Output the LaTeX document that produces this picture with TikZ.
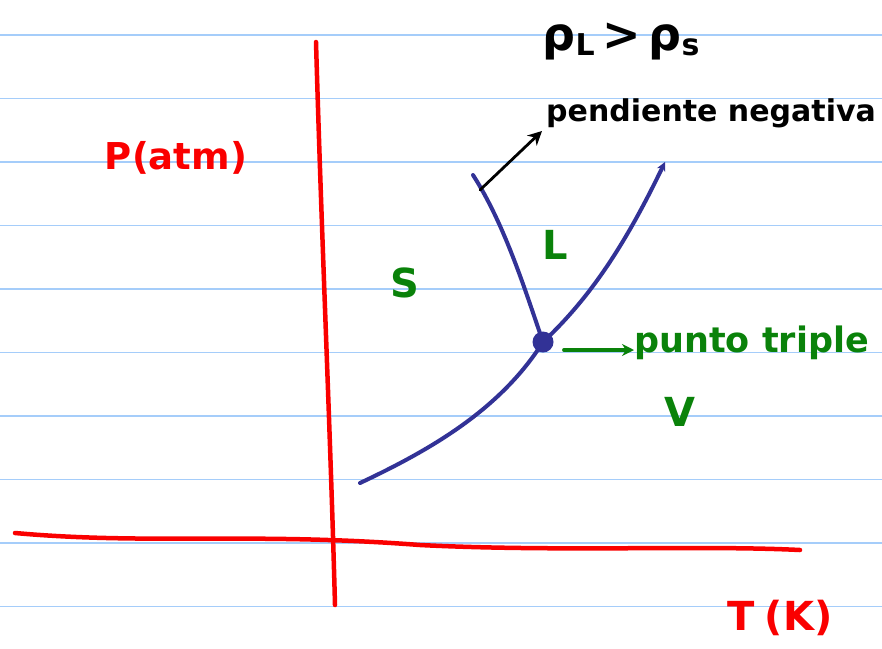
\documentclass[tikz,border=0pt]{standalone}
\usepackage{fontspec}
\setmainfont{DejaVu Sans}
\usetikzlibrary{arrows.meta}
\definecolor{rulecol}{RGB}{165,205,250}
\definecolor{axred}{RGB}{250,0,0}
\definecolor{curveblue}{RGB}{50,50,150}
\definecolor{phgreen}{RGB}{10,130,10}
\newcommand{\smallsub}[1]{\raisebox{-0.1em}{\fontsize{30}{30}\selectfont #1}}
\begin{document}
\begin{tikzpicture}[x=1pt,y=-1pt,
  ruled/.style={rulecol, line width=1.5pt},
  axisline/.style={axred, line width=4.5pt, line cap=round, line join=round},
  phase/.style={curveblue, line width=4pt, line cap=round, line join=round},
  pointer/.style={black, line width=2.8pt, line cap=round, -{Stealth[length=14pt,width=14pt]}},
  gpointer/.style={phgreen, line width=3.2pt, line cap=round, -{Stealth[length=12pt,width=12pt]}},
  redlbl/.style={text=axred, inner sep=0pt, font=\bfseries\fontsize{37}{44}\selectfont},
  greenlbl/.style={text=phgreen, inner sep=0pt, font=\bfseries\fontsize{35}{42}\selectfont},
  blacklbl/.style={text=black, inner sep=0pt, font=\bfseries\fontsize{30}{36}\selectfont}]
\useasboundingbox (0,0) rectangle (882,648);
\fill[white] (0,0) rectangle (882,648);
\foreach \y in {35,98.5,162,225.5,289,352.5,416,479.5,543,606.5}
  \draw[ruled] (0,\y) -- (882,\y);
% axes
\draw[axisline] (316,42) .. controls (322,250) and (330,420) .. (335,605);
\draw[axisline] (15,533) .. controls (150,545) and (250,532) .. (420,545)
  .. controls (560,552) and (700,545) .. (800,550);
% labels
\node[redlbl] (P) at (176,158) {P(atm)};
\node[redlbl, font=\bfseries\fontsize{40}{46}\selectfont] (T) at (780,618) {T\hspace{0.25em}(K)};
\node[greenlbl, font=\bfseries\fontsize{40}{46}\selectfont] (S) at (405,283) {S};
\node[greenlbl, font=\bfseries\fontsize{40}{46}\selectfont] (L) at (555,245) {L};
\node[greenlbl, font=\bfseries\fontsize{40}{46}\selectfont] (V) at (680,412) {V};
\node[greenlbl, anchor=west] (pt) at (634,343) {punto triple};
\node[blacklbl, font=\bfseries\fontsize{46}{52}\selectfont] (rho) at (621,42) {ρ\smallsub{L}\,>\,ρ\smallsub{s}};
\node[blacklbl, anchor=south west] (pend) at (546,128) {pendiente negativa};
% phase curves
\node[circle, fill=curveblue, minimum size=21pt, inner sep=0pt] (tp) at (543,342) {};
\draw[phase, -{Stealth[length=9pt,width=9pt]}] (360,483) .. controls (430,450) and (500,410) .. (tp.center)
  .. controls (590,298) and (625,245) .. (665,162);
\draw[phase] (tp.center) .. controls (525,290) and (505,225) .. (473,175);
\coordinate (slope) at (480,190);
\coordinate (slopetip) at (542,131);
\draw[pointer] (slope) -- (slopetip);
\draw[gpointer] (tp.east) ++(10,8) -- (pt.west |- 0,350);
\end{tikzpicture}
\end{document}
